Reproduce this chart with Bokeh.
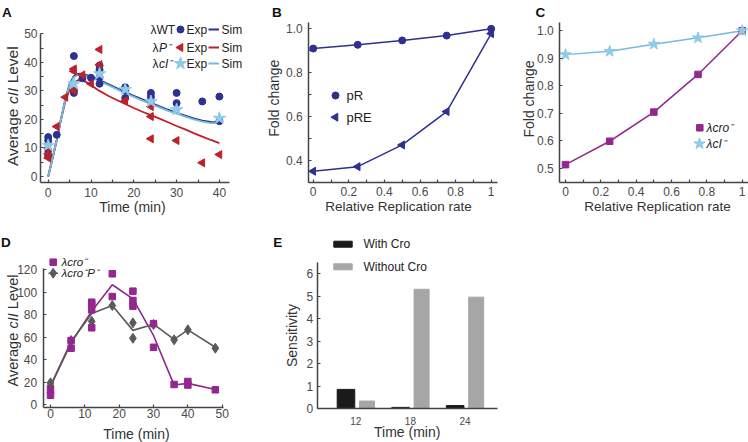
import math
from bokeh.plotting import figure
from bokeh.models import Range1d, FixedTicker, Label, CustomJSTickFormatter
from bokeh.layouts import row, column
from bokeh.embed import file_html
from bokeh.resources import INLINE

# ---------------- data ----------------
# Panel A : average cII level vs time
wt_exp_t = [0, 0, 0, 0, 2, 6, 6, 6, 8, 10, 12, 12, 12, 12, 18, 18, 18, 24, 24, 24, 30, 30, 36, 40, 40]
wt_exp_v = [13.8, 12.6, 9.1, 7.4, 14.6, 42.2, 30.1, 29.3, 34.4, 34.6, 38.9, 37.4, 34.8, 32.5,
            31.3, 30.2, 27.5, 29.3, 28.0, 26.6, 29.3, 25.7, 26.3, 28.0, 19.4]
p_exp_t = [0, 0, 0, 2, 4, 6, 6, 6, 8, 10, 12, 12, 18, 24, 24, 24, 30, 36, 40]
p_exp_v = [10.0, 8.0, 6.5, 17.5, 27.8, 37.7, 36.9, 30.1, 35.6, 32.5, 44.5, 39.2, 26.5,
           24.5, 21.0, 13.2, 12.6, 4.8, 7.7]
ci_exp_t = [0, 6, 12, 18, 24, 30, 40]
ci_exp_v = [10.9, 32.5, 36.0, 30.5, 26.3, 23.4, 20.4]
sim_t = [0, 1, 2, 3, 4, 5, 6, 7, 8, 9, 10, 12, 14, 16, 18, 20, 22, 24, 26, 28, 30, 32, 34, 36, 38, 40]
wt_sim = [0, 6.3, 12.8, 20.2, 27.2, 32.4, 35.2, 36.0, 35.9, 35.5, 35.0, 33.8, 32.4, 31.0, 29.6,
          28.3, 27.0, 25.8, 24.6, 23.4, 22.3, 21.3, 20.4, 19.6, 19.1, 19.0]
ci_sim = [0, 6.3, 12.8, 20.2, 27.0, 32.0, 34.8, 35.6, 35.5, 35.1, 34.6, 33.4, 32.0, 30.6, 29.2,
          27.9, 26.6, 25.4, 24.2, 23.0, 22.0, 21.0, 20.0, 19.2, 18.7, 18.7]
p_sim = [0, 6.3, 12.8, 20.0, 26.3, 30.5, 32.8, 33.8, 33.7, 33.0, 32.0, 30.0, 28.3, 26.8, 25.4,
         24.0, 22.7, 21.5, 20.3, 19.0, 17.7, 16.5, 15.2, 14.0, 12.8, 11.7]

# Panel B : fold change vs relative replication rate
rep_rate = [0, 0.25, 0.5, 0.75, 1]
pR_fold = [0.910, 0.927, 0.947, 0.969, 1.0]
pRE_fold = [0.351, 0.372, 0.471, 0.623, 0.978]

# Panel C
cro_fold = [0.513, 0.598, 0.704, 0.841, 1.0]
cI_fold = [0.913, 0.925, 0.951, 0.974, 1.0]

# Panel D
cro_pts_t = [0, 0, 6, 6, 12, 12, 12, 12, 18, 18, 24, 24, 24, 30, 30, 36, 40, 40, 48]
cro_pts_v = [8.5, 13.5, 50.2, 57.0, 91.0, 89.0, 84.2, 68.3, 116.2, 96.0, 100.8, 92.5, 87.5,
             72.0, 51.0, 18.0, 20.7, 17.5, 13.3]
croP_pts_t = [0, 0, 6, 12, 12, 18, 24, 24, 30, 36, 40, 48]
croP_pts_v = [17.0, 19.5, 57.0, 88.0, 74.0, 88.0, 72.7, 59.0, 71.2, 57.6, 66.5, 50.2]
d_line_t = [0, 6, 12, 18, 24, 30, 36, 40, 48]
cro_line = [16, 55, 83, 106.5, 94, 61.5, 17.5, 19, 13.5]
croP_line = [17, 56, 81, 88, 66, 71.5, 58, 66.5, 51]

# Panel E
e_times = [12, 18, 24]
e_time_labels = ["12", "18", "24"]
with_cro = [0.85, 0.05, 0.13]
without_cro = [0.33, 5.30, 4.95]

# ---------------- style ----------------
FONT = "Liberation Sans"
NAVY = "#2E3192"
RED = "#BE2126"
LBLUE_LINE = "#74BBDD"
LBLUE_STAR = "#8FCAE6"
PURPLE = "#93278F"
GRAY = "#5A5A5A"
AXC = "#444444"
TXC = "#4a4a4a"
LBC = "#333333"
SUP = "\u207b"


class Geo:
    """Panel geometry in page pixels; the frame fills the whole figure."""
    def __init__(self, fx, fy, fw, fh, X0, Xs, Y0, Ys):
        self.fx, self.fy, self.fw, self.fh = fx, fy, fw, fh
        self.X0, self.Xs, self.Y0, self.Ys = X0, Xs, Y0, Ys

    def dx(self, px):
        return (px - self.X0) / self.Xs

    def dy(self, py):
        return (self.Y0 - py) / self.Ys


def make_fig(g):
    p = figure(width=g.fw, height=g.fh,
               x_range=Range1d(g.dx(g.fx), g.dx(g.fx + g.fw)),
               y_range=Range1d(g.dy(g.fy + g.fh), g.dy(g.fy)),
               output_backend="svg", toolbar_location=None, tools="",
               min_border=0, min_border_left=0, min_border_right=0,
               min_border_top=0, min_border_bottom=0)
    p.xgrid.visible = False
    p.ygrid.visible = False
    p.outline_line_color = None
    p.background_fill_color = "white"
    p.border_fill_color = "white"
    return p


def style_axes(p, g, ax_x, ax_y, xt, xm, yt, ym, xb, yb, xsize="12px", ysize="12px",
               xtick=3, ytick=3, xstand=4, ystand=4):
    xa, ya = p.xaxis[0], p.yaxis[0]
    ya.fixed_location = g.dx(ax_x)
    xa.fixed_location = g.dy(ax_y)
    xa.ticker = FixedTicker(ticks=xt, minor_ticks=xm)
    ya.ticker = FixedTicker(ticks=yt, minor_ticks=ym)
    xa.bounds = xb
    ya.bounds = yb
    for ax, tk, sz, st in ((xa, xtick, xsize, xstand), (ya, ytick, ysize, ystand)):
        ax.axis_line_color = AXC
        ax.axis_line_width = 1.5
        ax.major_tick_in = tk
        ax.major_tick_out = 0
        ax.minor_tick_in = tk
        ax.minor_tick_out = 0
        ax.major_tick_line_color = AXC
        ax.minor_tick_line_color = AXC
        ax.major_tick_line_width = 1.2
        ax.minor_tick_line_width = 1.2
        ax.major_label_text_font = FONT
        ax.major_label_text_font_size = sz
        ax.major_label_text_color = TXC
        ax.major_label_standoff = st


def lab(p, g, px, py, text, size, align="left", baseline="middle", angle=0.0,
        style="normal", color=LBC):
    p.add_layout(Label(x=g.dx(px), y=g.dy(py), x_units="data", y_units="data", text=text,
                       text_font=FONT, text_font_size=f"{size}px", text_font_style=style,
                       text_color=color, text_align=align, text_baseline=baseline,
                       angle=angle))


def ylabel_cII(p, g, px, pcy, size):
    # "Average cII Level" with the gene name in italics, drawn bottom to top
    w_avg = 3.724 * size
    w_sp = 0.278 * size
    w_cii = 1.056 * size
    w_lev = 2.390 * size
    total = w_avg + w_sp + w_cii + w_sp + w_lev
    yb = pcy + total / 2
    lab(p, g, px, yb, "Average", size, angle=math.pi / 2)
    lab(p, g, px, yb - w_avg - w_sp, "cII", size, angle=math.pi / 2, style="italic")
    lab(p, g, px, yb - w_avg - 2 * w_sp - w_cii, "Level", size, angle=math.pi / 2)


def letter(p, g, px, py, t):
    lab(p, g, px, py, t, 13.5, baseline="alphabetic", style="bold", color="#111111")


# ---------------- Panel A ----------------
gA = Geo(0, 0, 258, 223, 47.7, 4.28, 176.0, 2.854)
pA = make_fig(gA)
pA.line(sim_t, wt_sim, color=NAVY, line_width=1.8)
pA.line(sim_t, p_sim, color=RED, line_width=1.8)
pA.line(sim_t, ci_sim, color=LBLUE_LINE, line_width=1.8)
pA.scatter(wt_exp_t, wt_exp_v, marker="circle", size=7, color=NAVY)
pA.scatter(p_exp_t, p_exp_v, marker="triangle", angle=math.pi / 2, size=8, color=RED)
pA.scatter(ci_exp_t, ci_exp_v, marker="star", size=13, color=LBLUE_STAR)
style_axes(pA, gA, 40, 181.7, [0, 10, 20, 30, 40], [5, 15, 25, 35], [0, 10, 20, 30, 40, 50],
           [5, 15, 25, 35, 45], (gA.dx(40), gA.dx(229)), (gA.dy(181.7), gA.dy(32.5)),
           xstand=6, ystand=3)
letter(pA, gA, 1.5, 12, "A")
ylabel_cII(pA, gA, 12, 105.7, 15.5)
lab(pA, gA, 132, 206, "Time (min)", 14, align="center")
# legend A
for ry, mk, col, name, ital in ((29, "circle", NAVY, "λWT", None),
                                (47, "triangle", RED, "λ", "P" + SUP),
                                (63, "star", LBLUE_STAR, "λ", "cI" + SUP)):
    lab(pA, gA, 150 if ital is None else 152, ry, name, 12, color="#222222")
    if ital:
        lab(pA, gA, 158.5, ry, ital, 12, style="italic", color="#222222")
    sz = {"circle": 7, "triangle": 8, "star": 13}[mk]
    pA.scatter([gA.dx(180)], [gA.dy(ry)], marker=mk, size=sz, color=col,
               angle=(math.pi / 2 if mk == "triangle" else 0))
    lab(pA, gA, 186, ry, "Exp", 12, color="#222222")
    lcol = {"circle": NAVY, "triangle": RED, "star": LBLUE_LINE}[mk]
    pA.line([gA.dx(208), gA.dx(218.5)], [gA.dy(ry), gA.dy(ry)], color=lcol, line_width=1.8)
    lab(pA, gA, 221, ry, "Sim", 12, color="#222222")

# ---------------- Panel B ----------------
gB = Geo(258, 0, 247, 223, 312.7, 178.0, 247.8, 219.5)
pB = make_fig(gB)
pB.line(rep_rate, pR_fold, color=NAVY, line_width=1.5)
pB.line(rep_rate, pRE_fold, color=NAVY, line_width=1.5)
pB.scatter(rep_rate, pR_fold, marker="circle", size=7, color=NAVY)
pB.scatter(rep_rate, pRE_fold, marker="triangle", angle=math.pi / 2, size=8, color=NAVY)
style_axes(pB, gB, 308.3, 181.7, [0, 0.2, 0.4, 0.6, 0.8, 1], [0.1, 0.3, 0.5, 0.7, 0.9],
           [0.4, 0.6, 0.8, 1.0], [0.3, 0.5, 0.7, 0.9], (gB.dx(308.3), gB.dx(496.7)),
           (gB.dy(181.7), gB.dy(21.7)), xstand=5, ystand=6)
pB.xaxis[0].formatter = CustomJSTickFormatter(code="return String(tick)")
pB.yaxis[0].formatter = CustomJSTickFormatter(code="return tick.toFixed(1)")
letter(pB, gB, 271.5, 12, "B")
lab(pB, gB, 273.3, 97.7, "Fold change", 14, align="center", angle=math.pi / 2)
lab(pB, gB, 398, 206, "Relative Replication rate", 13.5, align="center")
pB.scatter([gB.dx(335)], [gB.dy(95)], marker="circle", size=7, color=NAVY)
lab(pB, gB, 346, 95, "pR", 13, color="#222222")
pB.scatter([gB.dx(335)], [gB.dy(116.7)], marker="triangle", angle=math.pi / 2, size=8, color=NAVY)
lab(pB, gB, 346, 116.7, "pRE", 13, color="#222222")

# ---------------- Panel C ----------------
gC = Geo(505, 0, 243, 223, 565.0, 176.7, 305.2, 275.0)
pC = make_fig(gC)
pC.line(rep_rate, cro_fold, color=PURPLE, line_width=1.5)
pC.line(rep_rate, cI_fold, color=LBLUE_LINE, line_width=1.5)
pC.scatter(rep_rate, cro_fold, marker="square", size=6.5, color=PURPLE)
pC.scatter(rep_rate, cI_fold, marker="star", size=12, color=LBLUE_STAR)
style_axes(pC, gC, 559.3, 181.7, [0, 0.2, 0.4, 0.6, 0.8, 1], [0.1, 0.3, 0.5, 0.7, 0.9],
           [0.5, 0.6, 0.7, 0.8, 0.9, 1.0], [], (gC.dx(559.3), gC.dx(748)),
           (gC.dy(181.7), gC.dy(21.7)), xstand=5, ystand=6)
pC.xaxis[0].formatter = CustomJSTickFormatter(code="return String(tick)")
pC.yaxis[0].formatter = CustomJSTickFormatter(code="return tick.toFixed(1)")
letter(pC, gC, 535, 12, "C")
lab(pC, gC, 528.3, 98.5, "Fold change", 14, align="center", angle=math.pi / 2)
lab(pC, gC, 657, 206, "Relative Replication rate", 13.5, align="center")
pC.scatter([gC.dx(699.3)], [gC.dy(127.3)], marker="square", size=6.5, color=PURPLE)
lab(pC, gC, 706, 127.3, "λcro" + SUP, 12, style="italic", color="#222222")
pC.scatter([gC.dx(699)], [gC.dy(143.3)], marker="star", size=12, color=LBLUE_STAR)
lab(pC, gC, 706, 143.3, "λcI" + SUP, 12, style="italic", color="#222222")

# ---------------- Panel D ----------------
gD = Geo(0, 223, 258, 219, 50.0, 3.434, 404.3, 1.1275)
pD = make_fig(gD)
pD.line(d_line_t, cro_line, color=PURPLE, line_width=1.6)
pD.line(d_line_t, croP_line, color=GRAY, line_width=1.6)
pD.scatter(croP_pts_t, croP_pts_v, marker="diamond", size=10, color=GRAY)
pD.scatter(cro_pts_t, cro_pts_v, marker="square", size=6.5, color=PURPLE)
style_axes(pD, gD, 42.7, 406.7, [0, 10, 20, 30, 40, 50], [], [0, 20, 40, 60, 80, 100, 120], [],
           (gD.dx(42.7), gD.dx(223.3)), (gD.dy(406.7), gD.dy(268.3)), xstand=2, ystand=6)
letter(pD, gD, 0.5, 241.5, "D")
ylabel_cII(pD, gD, 12, 330, 14.5)
lab(pD, gD, 136, 433, "Time (min)", 14, align="center")
pD.scatter([gD.dx(52.7)], [gD.dy(261.7)], marker="square", size=6.5, color=PURPLE)
lab(pD, gD, 61, 261.7, "λcro" + SUP, 11.5, style="italic", color="#222222")
pD.line([gD.dx(48), gD.dx(57.5)], [gD.dy(272.7), gD.dy(272.7)], color=GRAY, line_width=1.6)
pD.scatter([gD.dx(52.7)], [gD.dy(272.7)], marker="diamond", size=10, color=GRAY)
lab(pD, gD, 61, 272.7, "λcro" + SUP + "P" + SUP, 11.5, style="italic", color="#222222")

# ---------------- Panel E ----------------
gE = Geo(258, 223, 247, 219, 246.1, 9.1, 408.0, 22.5)
pE = make_fig(gE)
pE.vbar(x=[t - 1.08 for t in e_times], top=with_cro, bottom=0, width=1.93, color="#1a1a1a")
pE.vbar(x=[t + 1.23 for t in e_times], top=without_cro, bottom=0, width=1.65, color="#a6a6a6")
style_axes(pE, gE, 316.7, 408.3, e_times, [], [0, 1, 2, 3, 4, 5, 6], [],
           (gE.dx(316.7), gE.dx(496.7)), (gE.dy(408.3), 6.5),
           xsize="10px", xtick=0, xstand=8)
pE.xaxis[0].major_label_overrides = {t: s for t, s in zip(e_times, e_time_labels)}
letter(pE, gE, 272.7, 241.5, "E")
lab(pE, gE, 291.7, 335, "Sensitivity", 14, align="center", angle=math.pi / 2)
lab(pE, gE, 406.7, 431, "Time (min)", 14, align="center")
pE.rect([gE.dx(342.5)], [gE.dy(243.7)], width=18.4, height=6, width_units="screen",
        height_units="screen", color="#1a1a1a")
lab(pE, gE, 363, 243.7, "With Cro", 12, color="#222222")
pE.rect([gE.dx(342.5)], [gE.dy(266.3)], width=18.4, height=6, width_units="screen",
        height_units="screen", color="#a6a6a6")
lab(pE, gE, 363, 266.3, "Without Cro", 12, color="#222222")

layout = column(row(pA, pB, pC), row(pD, pE))
open("out.html", "w").write(file_html(layout, INLINE))
